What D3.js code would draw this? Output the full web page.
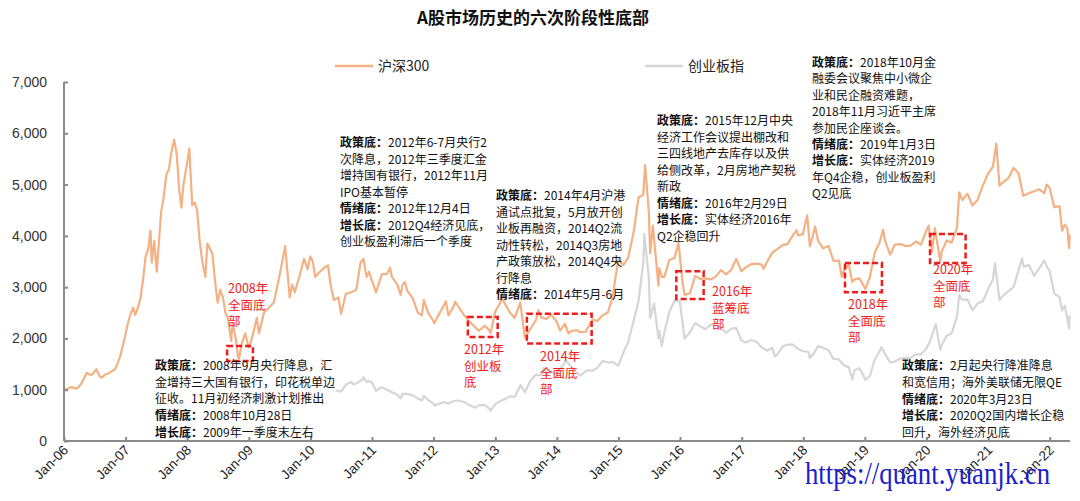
<!DOCTYPE html>
<html><head><meta charset="utf-8">
<script src="https://cdn.jsdelivr.net/npm/d3@7"></script>
<style>body{margin:0;background:#fff}svg{display:block}</style>
</head><body><svg id="c" width="1080" height="501"></svg>
<script>
const chartTitle = "A股市场历史的六次阶段性底部";
const seriesNames = ["沪深300", "创业板指"];
const yTickValues = [0, 1000, 2000, 3000, 4000, 5000, 6000, 7000];
const xTickLabels = ["Jan-06","Jan-07","Jan-08","Jan-09","Jan-10","Jan-11","Jan-12","Jan-13","Jan-14","Jan-15","Jan-16","Jan-17","Jan-18","Jan-19","Jan-20","Jan-21","Jan-22"];
const watermark = "https://quant.yuanjk.cn";

const hs300 = [
["2006-01-04",1000],["2006-01-20",1010],["2006-02-10",1050],["2006-02-28",1040],["2006-03-15",1020],["2006-03-31",1060],
["2006-04-15",1130],["2006-04-30",1220],["2006-05-15",1330],["2006-05-31",1300],["2006-06-15",1290],["2006-06-30",1350],
["2006-07-12",1400],["2006-07-31",1260],["2006-08-15",1240],["2006-08-31",1290],["2006-09-15",1310],["2006-09-29",1330],
["2006-10-15",1370],["2006-10-31",1400],["2006-11-15",1520],["2006-11-30",1650],["2006-12-15",1850],["2006-12-29",2040],
["2007-01-15",2300],["2007-01-31",2480],["2007-02-15",2600],["2007-02-27",2460],["2007-03-15",2600],["2007-03-30",2780],
["2007-04-15",3150],["2007-04-30",3600],["2007-05-15",3750],["2007-05-29",4100],["2007-06-05",3480],["2007-06-20",3900],
["2007-07-05",3300],["2007-07-31",4470],["2007-08-15",4750],["2007-08-31",5200],["2007-09-15",5300],["2007-09-28",5600],
["2007-10-16",5877],["2007-10-31",5600],["2007-11-15",4900],["2007-11-28",4550],["2007-12-10",5000],["2007-12-28",5340],
["2008-01-14",5700],["2008-01-31",4600],["2008-02-15",4650],["2008-02-29",4500],["2008-03-15",3900],["2008-03-31",3500],
["2008-04-18",3200],["2008-04-30",3850],["2008-05-15",3750],["2008-05-30",3650],["2008-06-15",3100],["2008-06-30",2700],
["2008-07-15",2950],["2008-07-31",2800],["2008-08-15",2500],["2008-08-29",2400],["2008-09-18",1950],["2008-09-26",2300],
["2008-10-15",2000],["2008-10-28",1650],["2008-11-04",1610],["2008-11-20",1900],["2008-12-10",2100],["2008-12-31",1820],
["2009-01-15",1950],["2009-02-17",2400],["2009-03-02",2100],["2009-03-31",2500],["2009-04-30",2600],["2009-05-29",2700],
["2009-06-30",3200],["2009-07-15",3450],["2009-08-04",3800],["2009-08-31",2800],["2009-09-15",3050],["2009-09-30",2900],
["2009-10-31",3250],["2009-11-24",3550],["2009-12-15",3350],["2009-12-31",3600],["2010-01-15",3500],["2010-01-29",3200],
["2010-02-26",3300],["2010-03-31",3400],["2010-04-15",3420],["2010-04-30",3050],["2010-05-20",2750],["2010-06-15",2800],
["2010-07-02",2480],["2010-07-30",2870],["2010-08-31",2900],["2010-09-30",2950],["2010-10-25",3480],["2010-11-11",3550],
["2010-11-30",3200],["2010-12-15",3300],["2010-12-31",3130],["2011-01-25",2900],["2011-02-28",3250],["2011-03-31",3260],
["2011-04-18",3380],["2011-04-29",3200],["2011-05-31",3050],["2011-06-20",2850],["2011-06-30",3040],["2011-07-15",3100],
["2011-07-29",2930],["2011-08-31",2780],["2011-09-30",2500],["2011-10-24",2450],["2011-11-04",2750],["2011-11-30",2500],
["2011-12-31",2340],["2012-01-06",2300],["2012-01-31",2460],["2012-02-29",2630],["2012-03-14",2720],["2012-03-29",2450],
["2012-04-30",2630],["2012-05-07",2720],["2012-05-31",2600],["2012-06-29",2460],["2012-07-31",2330],["2012-08-31",2230],
["2012-09-26",2150],["2012-10-31",2250],["2012-11-30",2140],["2012-12-04",2100],["2012-12-31",2520],["2013-01-31",2700],
["2013-02-06",2800],["2013-02-28",2670],["2013-03-29",2500],["2013-04-26",2400],["2013-05-29",2700],["2013-06-25",2020],
["2013-07-31",2200],["2013-08-30",2360],["2013-09-13",2550],["2013-09-30",2410],["2013-10-31",2380],["2013-11-29",2460],
["2013-12-31",2330],["2014-01-20",2150],["2014-02-18",2290],["2014-03-10",2100],["2014-03-31",2150],["2014-04-30",2160],
["2014-05-20",2120],["2014-06-20",2130],["2014-07-31",2370],["2014-08-29",2340],["2014-09-30",2450],["2014-10-31",2510],
["2014-11-28",2810],["2014-12-15",3200],["2014-12-31",3530],["2015-01-30",3430],["2015-02-27",3570],["2015-03-31",4050],
["2015-04-30",4750],["2015-05-28",4800],["2015-06-08",5380],["2015-06-30",4470],["2015-07-08",3660],["2015-07-24",4200],
["2015-08-26",3030],["2015-08-31",3370],["2015-09-15",3200],["2015-09-30",3200],["2015-10-30",3530],["2015-11-30",3570],
["2015-12-23",3870],["2016-01-15",3120],["2016-01-28",2850],["2016-02-29",2880],["2016-03-31",3220],["2016-04-29",3160],
["2016-05-31",3170],["2016-06-30",3150],["2016-07-29",3200],["2016-08-31",3330],["2016-09-30",3250],["2016-10-31",3340],
["2016-11-29",3550],["2016-12-30",3310],["2017-01-26",3390],["2017-02-28",3450],["2017-03-31",3460],["2017-04-28",3440],
["2017-05-11",3360],["2017-05-31",3490],["2017-06-30",3670],["2017-07-31",3740],["2017-08-31",3820],["2017-09-29",3840],
["2017-10-31",4010],["2017-11-22",4110],["2017-11-30",4010],["2017-12-29",4030],["2018-01-24",4400],["2018-02-09",3800],
["2018-02-28",4020],["2018-03-12",4180],["2018-03-30",3900],["2018-04-27",3760],["2018-05-31",3800],["2018-06-29",3510],
["2018-07-31",3520],["2018-08-17",3200],["2018-08-31",3330],["2018-09-28",3440],["2018-10-18",3100],["2018-10-31",3150],
["2018-11-30",3170],["2018-12-28",3010],["2019-01-03",2960],["2019-01-31",3200],["2019-02-28",3670],["2019-03-29",3870],
["2019-04-19",4120],["2019-04-30",3910],["2019-05-31",3630],["2019-06-28",3830],["2019-07-31",3840],["2019-08-30",3800],
["2019-09-30",3810],["2019-10-31",3890],["2019-11-29",3830],["2019-12-31",4100],["2020-01-14",4200],["2020-02-03",3690],
["2020-02-20",4150],["2020-03-23",3500],["2020-03-31",3690],["2020-04-30",3910],["2020-05-29",3870],["2020-06-30",4160],
["2020-07-13",4850],["2020-07-31",4700],["2020-08-31",4820],["2020-09-30",4590],["2020-10-30",4700],["2020-11-30",4980],
["2020-12-31",5210],["2021-01-29",5350],["2021-02-18",5800],["2021-03-09",4980],["2021-03-31",5050],["2021-04-30",5120],
["2021-05-31",5330],["2021-06-30",5220],["2021-07-28",4780],["2021-08-31",4830],["2021-09-30",4870],["2021-10-29",4910],
["2021-11-30",4830],["2021-12-13",5000],["2021-12-31",4940],["2022-01-28",4560],["2022-02-28",4580],["2022-03-15",4100],
["2022-03-31",4220],["2022-04-15",4150],["2022-04-26",3760],["2022-04-29",4020]
];

const chinext = [
["2010-06-01",990],["2010-06-30",960],["2010-07-15",1020],["2010-07-30",1100],["2010-08-31",1150],["2010-09-15",1100],
["2010-09-30",1120],["2010-10-29",1180],["2010-11-12",1239],["2010-11-30",1150],["2010-12-15",1170],["2010-12-31",1140],
["2011-01-25",980],["2011-02-28",1050],["2011-03-31",1000],["2011-04-29",950],["2011-05-31",900],["2011-06-20",830],
["2011-06-30",920],["2011-07-29",920],["2011-08-31",890],["2011-09-30",830],["2011-10-24",790],["2011-11-04",880],
["2011-11-30",800],["2011-12-31",730],["2012-01-06",690],["2012-01-31",720],["2012-02-29",760],["2012-03-29",730],
["2012-04-30",780],["2012-05-31",790],["2012-06-29",760],["2012-07-31",700],["2012-08-31",650],["2012-09-28",700],
["2012-10-31",700],["2012-11-30",620],["2012-12-04",590],["2012-12-31",716],["2013-01-31",780],["2013-02-28",820],
["2013-03-29",870],["2013-04-26",860],["2013-05-31",1090],["2013-06-25",950],["2013-07-31",1190],["2013-08-30",1290],
["2013-09-30",1280],["2013-10-15",1420],["2013-10-31",1310],["2013-11-29",1350],["2013-12-31",1300],["2014-01-31",1450],
["2014-02-25",1570],["2014-03-31",1430],["2014-04-30",1330],["2014-05-20",1280],["2014-06-30",1380],["2014-07-31",1370],
["2014-08-29",1430],["2014-09-30",1560],["2014-10-31",1530],["2014-11-28",1540],["2014-12-31",1470],["2015-01-30",1720],
["2015-02-27",1920],["2015-03-31",2330],["2015-04-30",2730],["2015-05-29",3500],["2015-06-03",4037],["2015-06-30",3200],
["2015-07-08",2400],["2015-07-31",2680],["2015-08-26",2000],["2015-08-31",2150],["2015-09-15",1850],["2015-09-30",2120],
["2015-10-30",2520],["2015-11-30",2740],["2015-12-31",2720],["2016-01-28",2000],["2016-02-29",2120],["2016-03-31",2300],
["2016-04-29",2240],["2016-05-31",2180],["2016-06-30",2270],["2016-07-29",2260],["2016-08-31",2200],["2016-09-30",2110],
["2016-10-31",2190],["2016-11-30",2200],["2016-12-30",1960],["2017-01-26",1920],["2017-02-28",1970],["2017-03-31",1930],
["2017-04-28",1830],["2017-05-31",1760],["2017-06-30",1820],["2017-07-17",1650],["2017-07-31",1690],["2017-08-31",1840],
["2017-09-29",1880],["2017-10-31",1880],["2017-11-30",1800],["2017-12-29",1750],["2018-01-31",1740],["2018-02-09",1620],
["2018-02-28",1690],["2018-03-30",1850],["2018-04-27",1820],["2018-05-31",1770],["2018-06-29",1600],["2018-07-31",1590],
["2018-08-31",1470],["2018-09-28",1440],["2018-10-19",1200],["2018-10-31",1380],["2018-11-30",1420],["2018-12-28",1250],
["2019-01-03",1190],["2019-01-31",1270],["2019-02-28",1590],["2019-03-29",1750],["2019-04-08",1830],["2019-04-30",1700],
["2019-05-31",1530],["2019-06-28",1550],["2019-07-31",1610],["2019-08-30",1620],["2019-09-30",1620],["2019-10-31",1690],
["2019-11-29",1690],["2019-12-31",1800],["2020-01-23",1950],["2020-02-25",2280],["2020-03-23",1780],["2020-03-31",1870],
["2020-04-30",2050],["2020-05-29",2100],["2020-06-30",2420],["2020-07-13",2850],["2020-07-31",2750],["2020-08-31",2760],
["2020-09-30",2550],["2020-10-30",2680],["2020-11-30",2720],["2020-12-31",2960],["2021-01-29",3150],["2021-02-10",3470],
["2021-03-09",2750],["2021-03-31",2840],["2021-04-30",2920],["2021-05-31",3000],["2021-06-30",3330],["2021-07-21",3560],
["2021-07-30",3400],["2021-08-31",3430],["2021-09-30",3220],["2021-10-29",3360],["2021-11-30",3520],["2021-12-15",3400],
["2021-12-31",3320],["2022-01-28",2870],["2022-02-28",2810],["2022-03-15",2550],["2022-03-31",2640],["2022-04-26",2200],
["2022-04-29",2450]
];

// bottom boxes in data coordinates
const bottomBoxes = [
  {from:"2008-08-25", to:"2009-01-25", lo:1560, hi:1850},
  {from:"2012-07-22", to:"2013-01-15", lo:2030, hi:2420},
  {from:"2013-07-07", to:"2014-07-26", lo:1900, hi:2480},
  {from:"2015-12-10", to:"2016-05-20", lo:2770, hi:3310},
  {from:"2018-09-05", to:"2019-04-12", lo:2900, hi:3470},
  {from:"2020-01-22", to:"2020-08-20", lo:3470, hi:4035}
];
const bottomLabels = [
  ["2008年","全面底","部"],
  ["2012年","创业板","底"],
  ["2014年","全面底","部"],
  ["2016年","蓝筹底","部"],
  ["2018年","全面底","部"],
  ["2020年","全面底","部"]
];
const bottomLabelPos = [[228,293],[464,354],[540,361],[712,296],[848,309],[933,274]];

const notes = [
  {pos:[155,370], lh:16.7, lines:[["政策底：","2008年9月央行降息，汇"],["","金增持三大国有银行，印花税单边"],["","征收。11月初经济刺激计划推出"],["情绪底：","2008年10月28日"],["增长底：","2009年一季度末左右"]]},
  {pos:[340,147], lh:16.5, lines:[["政策底：","2012年6-7月央行2"],["","次降息，2012年三季度汇金"],["","增持国有银行，2012年11月"],["","IPO基本暂停"],["情绪底：","2012年12月4日"],["增长底：","2012Q4经济见底，"],["","创业板盈利滞后一个季度"]]},
  {pos:[496,200], lh:16.5, lines:[["政策底：","2014年4月沪港"],["","通试点批复，5月放开创"],["","业板再融资，2014Q2流"],["","动性转松，2014Q3房地"],["","产政策放松，2014Q4央"],["","行降息"],["情绪底：","2014年5月-6月"]]},
  {pos:[657,125], lh:16.5, lines:[["政策底：","2015年12月中央"],["","经济工作会议提出棚改和"],["","三四线地产去库存以及供"],["","给侧改革，2月房地产契税"],["","新政"],["情绪底：","2016年2月29日"],["增长底：","实体经济2016年"],["","Q2企稳回升"]]},
  {pos:[812,67], lh:16.4, lines:[["政策底：","2018年10月金"],["","融委会议聚焦中小微企"],["","业和民企融资难题，"],["","2018年11月习近平主席"],["","参加民企座谈会。"],["情绪底：","2019年1月3日"],["增长底：","实体经济2019"],["","年Q4企稳，创业板盈利"],["","Q2见底"]]},
  {pos:[902,370], lh:16.8, lines:[["政策底：","2月起央行降准降息"],["","和宽信用；海外美联储无限QE"],["情绪底：","2020年3月23日"],["增长底：","2020Q2国内增长企稳"],["","回升，海外经济见底"]]}
];

const colors = {hs:"#F4B183", cy:"#D6D6D6", axis:"#8a8a8a", red:"#F01C1C", text:"#222"};
const CJK = "'Noto Sans CJK SC','Noto Sans',sans-serif";
const LAT = "'Liberation Sans',Arial,sans-serif";

const svg = d3.select("#c");
const parse = d3.timeParse("%Y-%m-%d");
const plotL = 64, plotR = 1070, plotT = 82, plotB = 441;
const x = d3.scaleTime().domain([parse("2006-01-01"), parse("2022-05-01")]).range([plotL, plotR]);
const y = d3.scaleLinear().domain([0, 7000]).range([plotB, plotT]);

// title
svg.append("text").attr("x", 533).attr("y", 24).attr("text-anchor","middle")
  .attr("font-family", CJK).attr("font-weight", 700).attr("font-size", 17).attr("fill","#111").text(chartTitle);

// legend
const legend = [[335, colors.hs, seriesNames[0]],[645, colors.cy, seriesNames[1]]];
legend.forEach(([lx,c,t])=>{
  svg.append("line").attr("x1",lx).attr("x2",lx+38).attr("y1",66).attr("y2",66).attr("stroke",c).attr("stroke-width",2.5);
  svg.append("text").attr("x",lx+43).attr("y",71).attr("font-family",CJK).attr("font-size",14).attr("fill",colors.text).text(t);
});

// lines
const line = d3.line().x(d=>x(parse(d[0]))).y(d=>y(d[1]));
svg.append("path").datum(chinext).attr("d",line).attr("fill","none").attr("stroke",colors.cy).attr("stroke-width",2.2).attr("stroke-linejoin","round");
svg.append("path").datum(hs300).attr("d",line).attr("fill","none").attr("stroke",colors.hs).attr("stroke-width",2.2).attr("stroke-linejoin","round");

// axes
const yAxis = svg.append("g").attr("transform",`translate(${plotL},0)`)
  .call(d3.axisRight(y).tickValues(yTickValues).tickSize(4).tickFormat(()=>""));
yAxis.select(".domain").attr("d",`M0,${plotT}H0V${plotB}`);
svg.selectAll(null).data(yTickValues).join("text")
  .attr("x",47).attr("y",d=>y(d)+5).attr("text-anchor","end")
  .attr("font-family",LAT).attr("font-size",14).attr("fill","#333").text(d3.format(","));

const xTicks = xTickLabels.map((t,i)=>new Date(2006+i,0,1));
const xAxis = svg.append("g").attr("transform",`translate(0,${plotB})`)
  .call(d3.axisTop(x).tickValues(xTicks).tickSize(4).tickFormat(()=>""));
xAxis.select(".domain").attr("d",`M${plotL},0H${plotR}`);
[yAxis,xAxis].forEach(g=>{
  g.selectAll("path,line").attr("stroke",colors.axis).attr("stroke-width",2);
});
svg.selectAll(null).data(xTicks).join("text")
  .attr("transform",d=>`translate(${x(d)+5},${plotB+10}) rotate(-45)`)
  .attr("text-anchor","end").attr("font-family",LAT).attr("font-size",13.5).attr("fill","#222")
  .text((d,i)=>xTickLabels[i]);

// boxes + red labels
bottomBoxes.forEach((b,i)=>{
  const x0 = x(parse(b.from)), x1 = x(parse(b.to)), y0 = y(b.hi), y1 = y(b.lo);
  svg.append("rect").attr("x",x0).attr("y",y0).attr("width",x1-x0).attr("height",y1-y0)
    .attr("fill","none").attr("stroke",colors.red).attr("stroke-width",2.5).attr("stroke-dasharray","6,3");
  const [lx,ly] = bottomLabelPos[i];
  const t = svg.append("text").attr("x",lx).attr("y",ly).attr("font-family",CJK).attr("font-size",12.5).attr("fill",colors.red);
  bottomLabels[i].forEach((s,j)=>{
    t.append("tspan").attr("x",lx).attr("dy", j===0 ? 0 : 16.5).text(s);
  });
});

// notes (one text element per block)
notes.forEach(n=>{
  const t = svg.append("text").attr("x",n.pos[0]).attr("y",n.pos[1])
    .attr("font-family",CJK).attr("font-size",12).attr("fill","#111");
  n.lines.forEach((ln,j)=>{
    const first = t.append("tspan").attr("x",n.pos[0]).attr("dy", j===0 ? 0 : n.lh);
    if (ln[0]) { first.attr("font-weight",700).text(ln[0]); t.append("tspan").text(ln[1]); }
    else first.text(ln[1]);
  });
});

// watermark
svg.append("text").attr("x",805).attr("y",484).attr("font-family","'Liberation Serif','Times New Roman',serif")
  .attr("font-size",31).attr("fill","#2020C8").attr("textLength",245).attr("lengthAdjust","spacingAndGlyphs").text(watermark);
</script></body></html>
